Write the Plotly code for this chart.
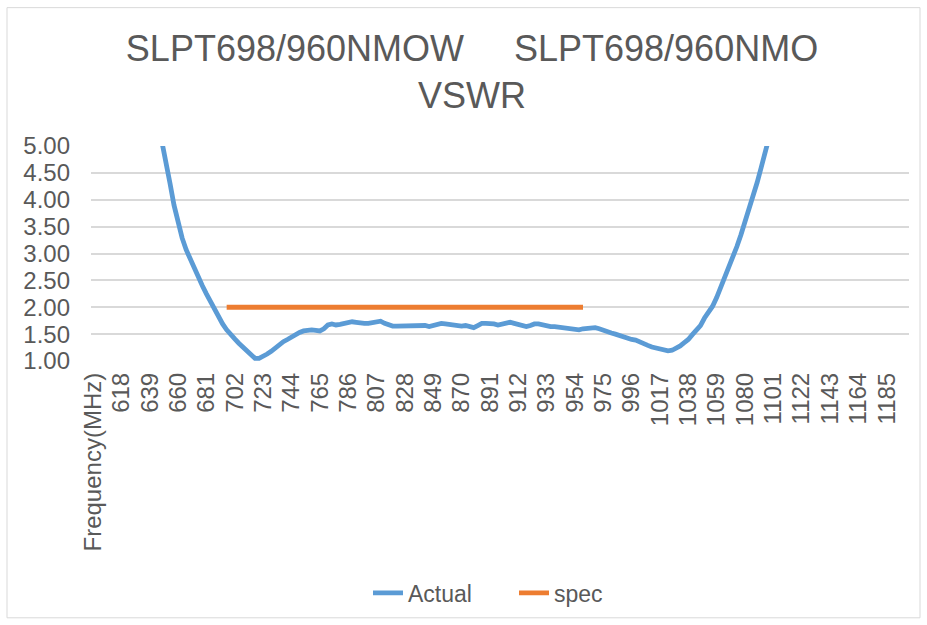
import plotly.graph_objects as go

# ---- data ----
first_category = "Frequency(MHz)"
frequencies = list(range(600, 1201, 3))  # MHz, category labels
freq_labels = [str(f) for f in frequencies]

actual_vswr = [
    # 600-645 (above the visible range)
    14.0, 13.5, 13.0, 12.4, 11.8, 11.2, 10.6, 10.0, 9.4, 8.8, 8.2, 7.6, 7.0, 6.45, 5.95, 5.5,
    # 648-675
    5.08, 4.74, 4.31, 3.90, 3.55, 3.29, 3.07, 2.89, 2.72, 2.56,
    # 678-705
    2.40, 2.25, 2.10, 1.96, 1.83, 1.69, 1.58, 1.48, 1.41, 1.33,
    # 708-735
    1.26, 1.19, 1.11, 1.05, 1.05, 1.08, 1.13, 1.18, 1.25, 1.32,
    # 738-765
    1.36, 1.40, 1.45, 1.49, 1.53, 1.56, 1.58, 1.58, 1.57, 1.56,
    # 768-795
    1.60, 1.67, 1.69, 1.67, 1.68, 1.70, 1.71, 1.73, 1.72, 1.70,
    # 798-825
    1.70, 1.70, 1.72, 1.74, 1.74, 1.70, 1.67, 1.65, 1.65, 1.65,
    # 828-855
    1.66, 1.67, 1.66, 1.66, 1.67, 1.66, 1.64, 1.66, 1.70, 1.70,
    # 858-885
    1.69, 1.68, 1.65, 1.64, 1.65, 1.66, 1.63, 1.62, 1.66, 1.70,
    # 888-915
    1.70, 1.70, 1.69, 1.67, 1.68, 1.70, 1.72, 1.70, 1.68, 1.65,
    # 918-945
    1.64, 1.66, 1.69, 1.69, 1.67, 1.65, 1.64, 1.64, 1.63, 1.62,
    # 948-975
    1.62, 1.61, 1.59, 1.58, 1.60, 1.61, 1.62, 1.62, 1.60, 1.57,
    # 978-1005
    1.53, 1.52, 1.50, 1.47, 1.44, 1.41, 1.40, 1.39, 1.35, 1.32,
    # 1008-1035
    1.29, 1.26, 1.24, 1.21, 1.19, 1.19, 1.20, 1.23, 1.28, 1.34,
    # 1038-1065
    1.40, 1.49, 1.58, 1.66, 1.80, 1.90, 2.02, 2.18, 2.36, 2.54,
    # 1068-1095
    2.74, 2.93, 3.13, 3.35, 3.58, 3.82, 4.05, 4.32, 4.60, 4.85,
    # 1098
    5.05,
    # 1101-1200 (above the visible range)
    5.35, 5.75, 6.2, 6.65, 7.1, 7.6, 8.1, 8.6, 9.1, 9.6,
    10.1, 10.6, 11.0, 11.4, 11.8, 12.2, 12.6, 13.0, 13.3, 13.6,
    13.9, 14.2, 14.5, 14.7, 14.9, 15.1, 15.3, 15.5, 15.6, 15.7,
    15.8, 15.9, 16.0, 16.1,
]
assert len(actual_vswr) == len(frequencies)

spec_freqs = ["696", "960"]
spec_vswr = [2.0, 2.0]

y_ticks = [1.0, 1.5, 2.0, 2.5, 3.0, 3.5, 4.0, 4.5, 5.0]

categories = [first_category] + freq_labels
tick_categories = categories[::7]

# ---- figure ----
FONT = "Liberation Sans, Arial, sans-serif"
TXT = "#595959"
GRID = "#d9d9d9"

fig = go.Figure()
fig.add_trace(go.Scatter(
    x=freq_labels, y=actual_vswr, mode="lines", name="Actual",
    line=dict(color="#5B9BD5", width=4.8),
))
fig.add_trace(go.Scatter(
    x=spec_freqs, y=spec_vswr, mode="lines", name="spec",
    line=dict(color="#ED7D31", width=4.8),
))

W, H = 927, 625
L, R, T, B = 91, 18, 146, 263
pw, ph = W - L - R, H - T - B

def px2paper_x(px):
    return (px - L) / pw

def py2paper_y(py):
    return (H - B - py) / ph

fig.update_layout(
    width=W, height=H,
    margin=dict(l=L, r=R, t=T, b=B, pad=0),
    paper_bgcolor="white", plot_bgcolor="white",
    font=dict(family=FONT, color=TXT, size=21),
    title=dict(
        text="SLPT698/960NMOW\u00a0\u00a0\u00a0\u00a0\u00a0SLPT698/960NMO<br>VSWR",
        x=472 / W, xref="container", xanchor="center",
        y=1 - 61 / H, yref="container", yanchor="top",
        font=dict(family=FONT, size=36, color=TXT),
    ),
    xaxis=dict(
        type="category",
        categoryorder="array", categoryarray=categories,
        range=[-0.5, len(categories) - 0.5],
        tickmode="array", tickvals=tick_categories, ticktext=tick_categories,
        tickangle=-90, tickfont=dict(size=24, color=TXT),
        showgrid=False, zeroline=False,
        showline=False, ticks="", ticklabelstandoff=6,
    ),
    yaxis=dict(
        range=[1, 5], tickvals=y_ticks, tickformat=".2f",
        tickfont=dict(size=24, color=TXT),
        showgrid=True, gridcolor=GRID, gridwidth=1.5,
        zeroline=False, showline=False, ticks="", ticklabelstandoff=20,
    ),
    showlegend=True,
    legend=dict(
        orientation="h", x=px2paper_x(368), xanchor="left",
        y=py2paper_y(593), yanchor="middle",
        font=dict(size=23, color=TXT), bgcolor="rgba(0,0,0,0)",
        entrywidth=101, entrywidthmode="pixels",
    ),
    shapes=[dict(
        type="rect", xref="paper", yref="paper",
        x0=px2paper_x(7), x1=px2paper_x(920),
        y0=py2paper_y(620), y1=py2paper_y(7),
        line=dict(color=GRID, width=1), fillcolor="rgba(0,0,0,0)",
        layer="below",
    )],
)

fig.write_html("out.html", config={"displayModeBar": False},
               post_script="document.body.style.margin='0px';")
